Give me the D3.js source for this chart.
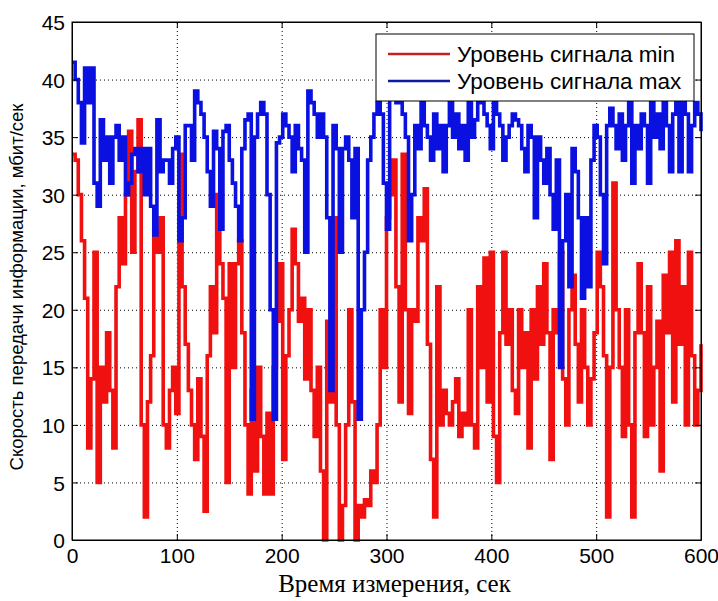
<!DOCTYPE html>
<html>
<head>
<meta charset="utf-8">
<script src="https://cdn.jsdelivr.net/npm/d3@7"></script>
<style>
  body { margin: 0; background: #fff; }
  svg text { fill: #000; }
</style>
</head>
<body>
<div id="chart"></div>
<script>
// Sampling step of the measurement, seconds
const timeStep = 3;

// Уровень сигнала min (one value every 3 s, 0..600)
const sigMin = [
  33.5, 33, 30, 26, 21, 8, 14, 25, 5, 15,
  12, 18, 13, 8, 22, 28, 24, 30, 35.5, 25,
  32, 36.5, 10, 2, 12, 16, 27, 25, 28, 10,
  8, 13, 15, 11, 33.5, 22, 17, 13, 10, 7,
  14, 9, 2.5, 16, 22, 18, 30, 24, 21, 5,
  24, 15, 24, 26, 18, 10, 4, 13, 6, 15,
  9, 4, 11, 4, 15, 19, 24, 7, 16, 20,
  27, 24, 19, 21, 14, 20, 13, 9, 15, 6,
  0, 19, 12, 28, 10, 0, 3, 10, 20, 12,
  0, 3, 2, 3.5, 3, 6, 5, 10, 20, 15,
  28, 30, 33, 22, 12, 33.5, 20, 11, 20, 19,
  28, 26, 30.5, 17, 7, 2, 22, 10, 13, 11,
  10, 12, 14, 9, 11, 10, 20, 10, 8, 22,
  15, 24.5, 12, 25, 9, 5, 18, 25, 17, 20,
  13, 11, 20, 15, 18, 8, 20, 14, 22, 17,
  24, 18, 7, 20, 18, 25, 14, 10, 20, 23,
  17, 12, 20, 15, 10, 14, 18, 25, 22, 16,
  2, 15, 31, 20, 15, 9, 20, 10, 2, 18,
  24, 18, 9, 22, 10, 15, 19, 6, 23, 18,
  25, 12, 26, 17, 22, 10, 25, 16, 10, 13,
  17
];

// Уровень сигнала max
const sigMax = [
  41.5, 40, 38, 34.5, 41, 38, 41, 31, 29, 36.5,
  33, 35, 31, 35, 36, 33, 35, 30, 31, 33.5,
  34, 32, 34, 30, 34, 29, 26.5, 36.5, 32, 33,
  33, 31, 34, 35, 26, 28, 36, 36, 33, 39,
  38, 37, 35, 32, 29, 35.5, 34, 27, 35.5, 36,
  33, 31, 29, 26, 34, 36.5, 37, 10.5, 35, 37,
  38, 37, 30, 20, 10.5, 34.5, 35, 37, 36, 35,
  32, 36, 34, 33, 25, 39, 38, 37, 35, 37,
  35, 28, 13, 36, 34, 25, 34, 35, 33, 28,
  34, 10.5, 20, 25, 33, 35, 37, 38, 37, 31,
  27, 38.5, 39, 38, 38, 37, 35, 26, 30, 36,
  34, 38, 36, 35, 33, 37, 34, 36, 32, 36,
  38, 35, 37, 34, 36, 33, 38, 35, 36.5, 38,
  38.5, 37, 36, 34, 38.5, 37, 36, 33, 35, 36,
  37, 36.5, 36, 34, 32, 36, 35, 28, 35, 33,
  31, 34, 30, 27, 33, 15, 26, 30, 22, 34,
  32, 28, 21, 28, 22, 33, 36, 35, 30, 24,
  36, 37.5, 36, 34, 37, 33, 36, 38, 31, 36,
  34, 37, 36, 31, 38, 35, 37, 34, 38, 36,
  32, 37, 38, 32, 38, 37, 32, 36, 38, 37,
  35.5
];

const seriesNames = ["Уровень сигнала min", "Уровень сигнала max"];
const seriesColors = ["#f01010", "#0a10e0"];
const legendColors = ["#c82020", "#101aa0"];
const xTicks = [0, 100, 200, 300, 400, 500, 600];
const yTicks = [0, 5, 10, 15, 20, 25, 30, 35, 40, 45];

const width = 718, height = 601;
const margin = { top: 22, right: 17, bottom: 61, left: 72 };
const innerW = width - margin.left - margin.right;
const innerH = height - margin.top - margin.bottom;

const svg = d3.select("#chart")
  .append("svg")
  .attr("width", width)
  .attr("height", height);

const x = d3.scaleLinear().domain([0, 600]).range([margin.left, margin.left + innerW]);
const y = d3.scaleLinear().domain([0, 45]).range([margin.top + innerH, margin.top]);

const tickFont = "'Liberation Sans', Arial, sans-serif";

// Grid (dotted)
svg.append("g")
  .attr("transform", `translate(0,${margin.top + innerH})`)
  .call(d3.axisBottom(x).tickValues(xTicks).tickSize(-innerH).tickFormat(""))
  .call(g => g.select(".domain").remove())
  .call(g => g.selectAll("line").attr("stroke", "#000").attr("stroke-dasharray", "1,3"));

svg.append("g")
  .attr("transform", `translate(${margin.left},0)`)
  .call(d3.axisLeft(y).tickValues(yTicks).tickSize(-innerW).tickFormat(""))
  .call(g => g.select(".domain").remove())
  .call(g => g.selectAll("line").attr("stroke", "#000").attr("stroke-dasharray", "1,3"));

// Series: min first, max drawn on top
const times = sigMin.map((_, i) => i * timeStep);
const line = d3.line()
  .x((d, i) => x(times[i]))
  .y(d => y(d))
  .curve(d3.curveStepAfter);

[sigMin, sigMax].forEach((values, k) => {
  svg.append("path")
    .datum(values)
    .attr("fill", "none")
    .attr("stroke", seriesColors[k])
    .attr("stroke-width", 3.6)
    .attr("stroke-linejoin", "miter")
    .attr("d", line);
});

// Axes (inward ticks, box)
const xAxis = svg.append("g")
  .attr("transform", `translate(0,${margin.top + innerH})`)
  .call(d3.axisBottom(x).tickValues(xTicks).tickSize(-6).tickPadding(16).tickSizeOuter(0));
xAxis.selectAll("text").attr("font-family", tickFont).attr("font-size", 21).attr("dy", "0.35em");

const yAxis = svg.append("g")
  .attr("transform", `translate(${margin.left},0)`)
  .call(d3.axisLeft(y).tickValues(yTicks).tickSize(-6).tickPadding(7).tickSizeOuter(0));
yAxis.selectAll("text").attr("font-family", tickFont).attr("font-size", 21).attr("dy", "0.36em");

svg.append("g")
  .attr("transform", `translate(0,${margin.top})`)
  .call(d3.axisTop(x).tickValues(xTicks).tickSize(-6).tickFormat("").tickSizeOuter(0));
svg.append("g")
  .attr("transform", `translate(${margin.left + innerW},0)`)
  .call(d3.axisRight(y).tickValues(yTicks).tickSize(-6).tickFormat("").tickSizeOuter(0));

svg.selectAll(".domain, .tick line:not([stroke-dasharray])").attr("stroke", "#000");

svg.append("rect")
  .attr("x", margin.left).attr("y", margin.top)
  .attr("width", innerW).attr("height", innerH)
  .attr("fill", "none").attr("stroke", "#000").attr("stroke-width", 1);

// Axis titles
svg.append("text")
  .attr("x", margin.left + innerW / 2 + 8)
  .attr("y", 592)
  .attr("text-anchor", "middle")
  .attr("font-family", "'Liberation Serif', 'Times New Roman', serif")
  .attr("font-size", 25)
  .text("Время измерения, сек");

svg.append("text")
  .attr("transform", `translate(23,${margin.top + innerH / 2 + 6}) rotate(-90)`)
  .attr("text-anchor", "middle")
  .attr("font-family", tickFont)
  .attr("font-size", 18.5)
  .text("Скорость передачи информации, мбит/сек");

// Legend
const legend = svg.append("g").attr("transform", "translate(376,34)");
legend.append("rect")
  .attr("width", 318).attr("height", 67)
  .attr("fill", "#fff").attr("stroke", "#000").attr("stroke-width", 1);

seriesNames.forEach((name, k) => {
  const ly = 20 + k * 27;
  legend.append("line")
    .attr("x1", 12).attr("x2", 74)
    .attr("y1", ly).attr("y2", ly)
    .attr("stroke", legendColors[k])
    .attr("stroke-width", 2.5);
  legend.append("text")
    .attr("x", 81).attr("y", ly)
    .attr("dy", "0.36em")
    .attr("font-family", tickFont)
    .attr("font-size", 22.5)
    .text(name);
});
</script>
</body>
</html>
